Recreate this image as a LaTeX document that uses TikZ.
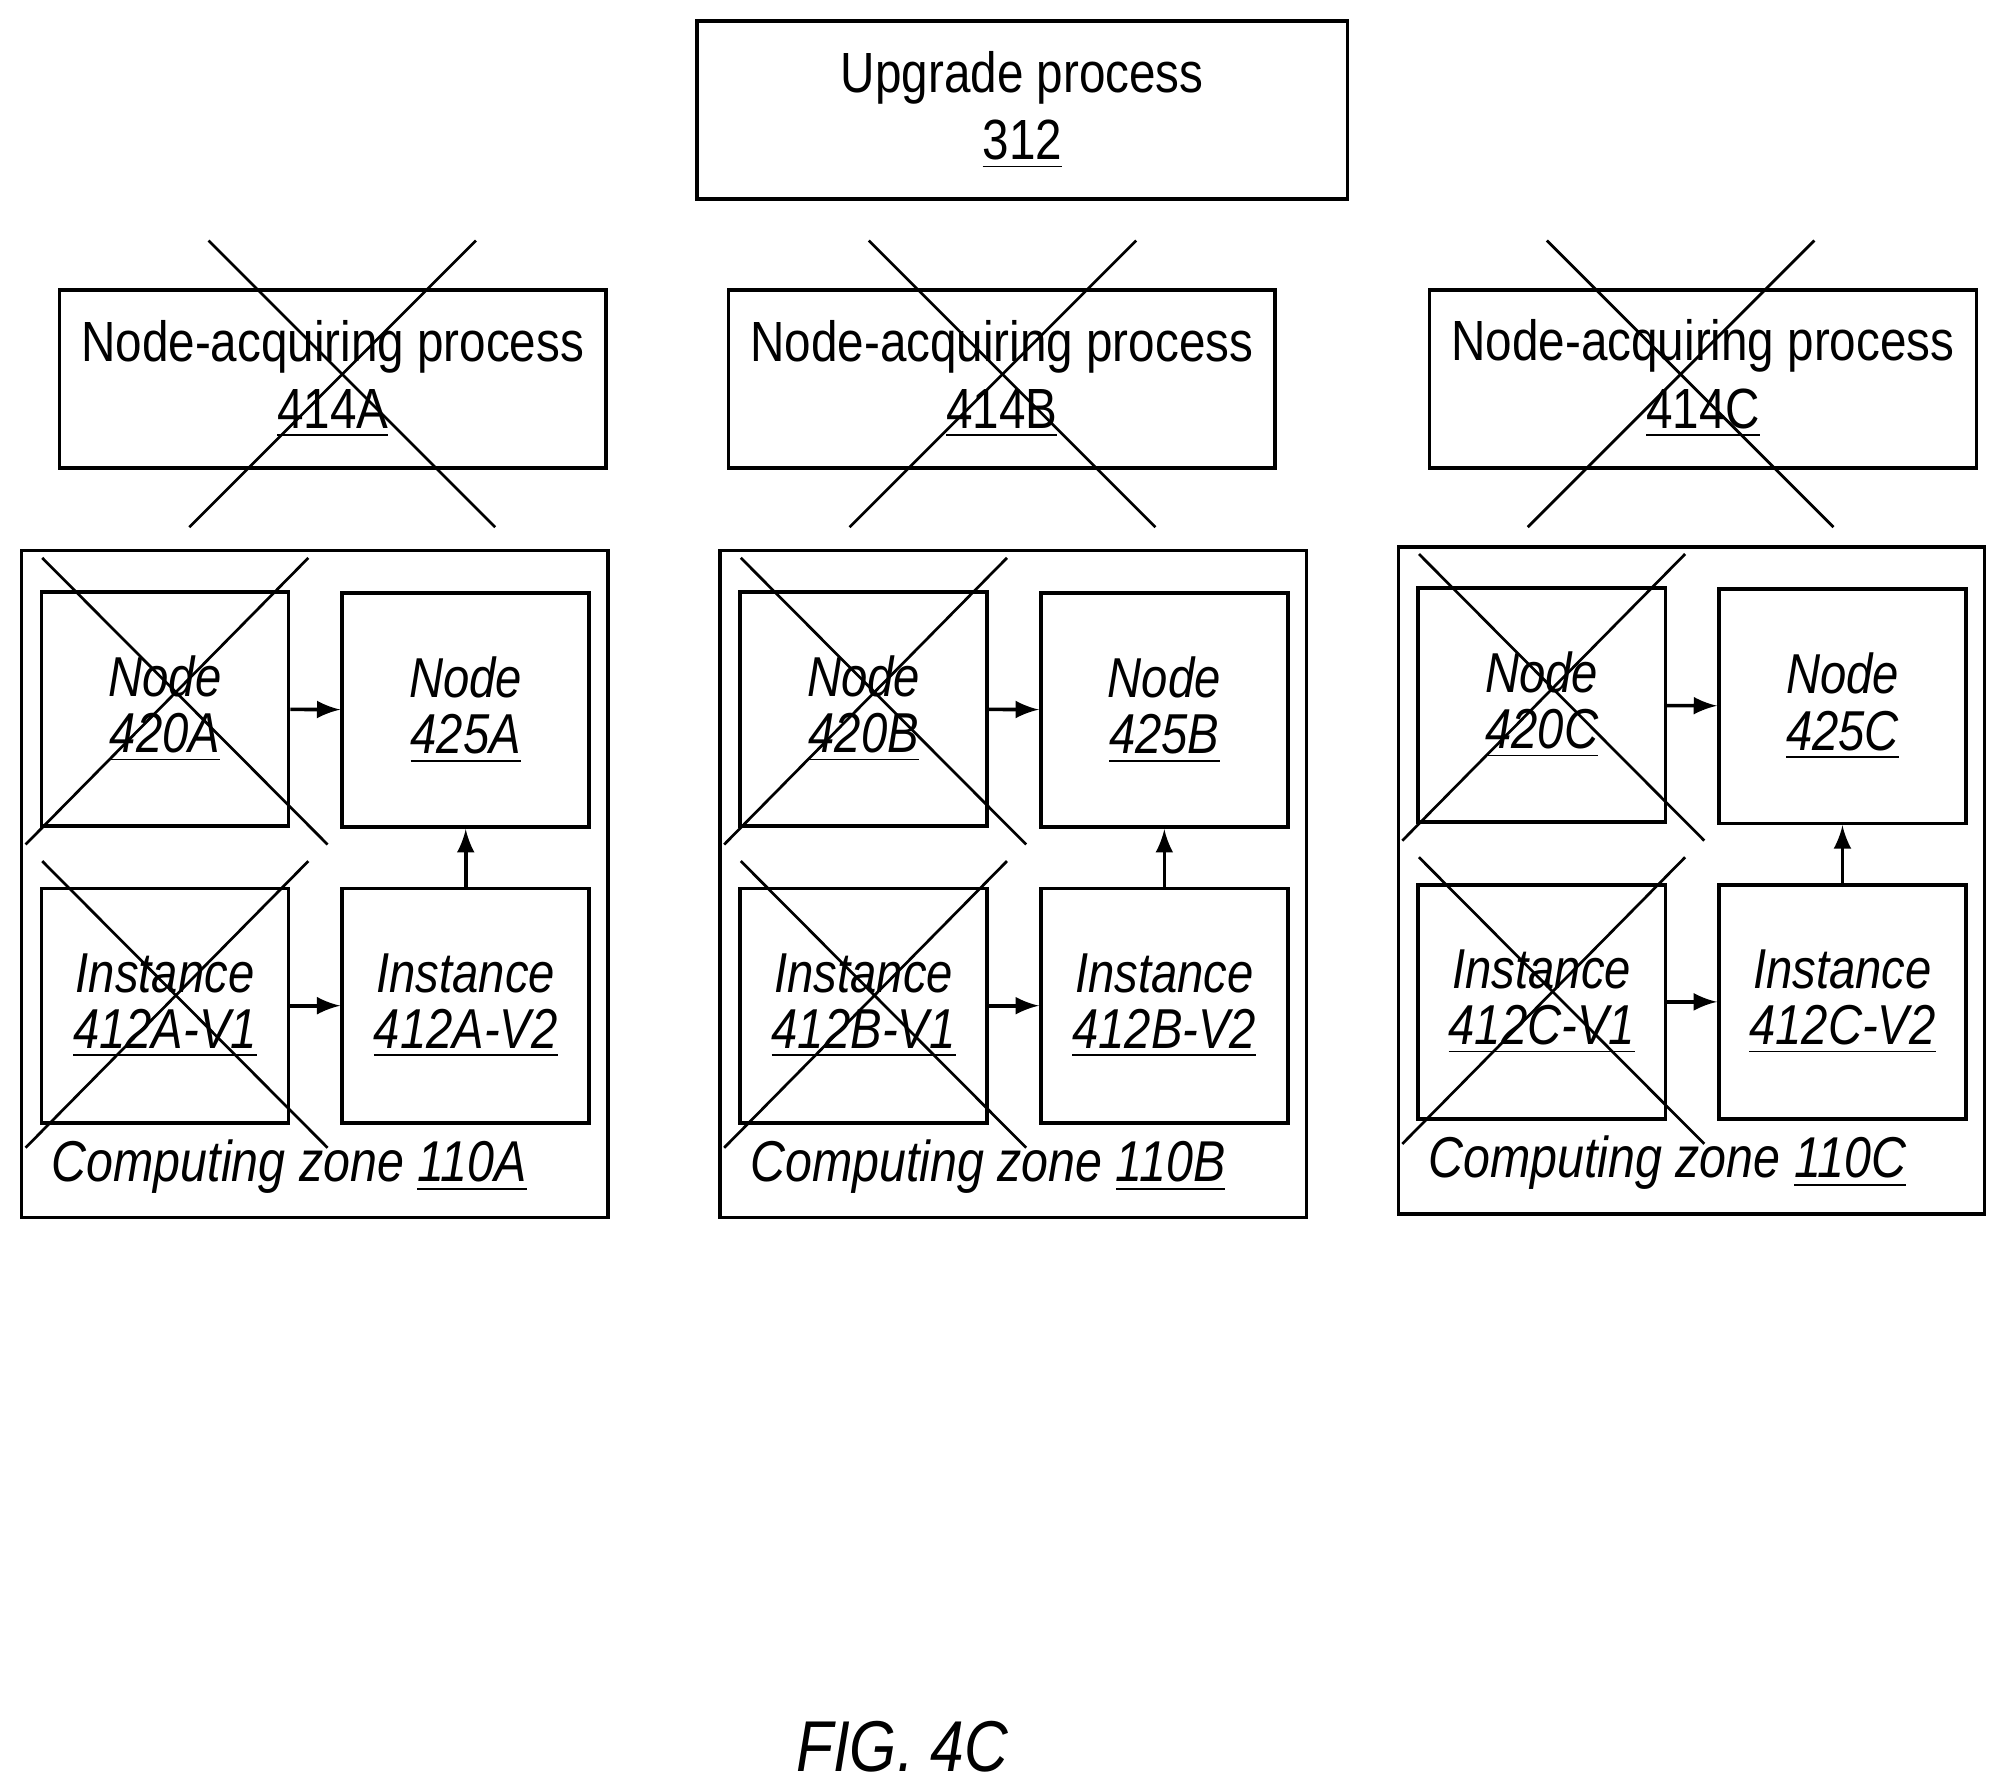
\documentclass[tikz,border=0pt]{standalone}
\usepackage{fontspec}
\setmainfont[FakeStretch=0.84]{Liberation Sans}
\usetikzlibrary{positioning}
\tikzset{
  box/.style={draw, thick, align=center, inner sep=0pt},
  proc/.style={box, minimum width=4.27cm, minimum height=1.39cm, font=\fontsize{12.6}{15}\selectfont},
  unit/.style={box, minimum width=1.93cm, minimum height=1.83cm, font=\fontsize{12.5}{12.5}\selectfont\itshape},
  cross/.style={semithick},
  arr/.style={thick, -latex}
}
\begin{document}
\begin{tikzpicture}[x=0.01cm, y=-0.01cm]
  \useasboundingbox (0,0) rectangle (1560,1396);
  % Upgrade process
  \node[proc, minimum width=5.08cm] (upg) at (799,86) {Upgrade process\\\underline{312}};
  % node-acquiring processes
  \foreach \z/\px/\cx in {A/0/0, B/523/516, C/1071/1046} {
    \node[proc] (acq\z) at (260+\px,296) {Node-acquiring process\\\underline{414\z}};
    \draw[cross] (163+\cx,188) -- (387+\cx,412);
    \draw[cross] (372+\cx,188) -- (148+\cx,412);
  }
  % three zones
  \foreach \z/\dx/\dy in {A/0/0, B/546/0, C/1076/-3} {
    \begin{scope}[shift={(\dx,\dy)}]
      \node[box, minimum width=4.58cm, minimum height=5.21cm] (zone\z) at (246,691) {};
      \node[unit] (old\z) at (129,554) {Node\\\underline{420\z}};
      \node[unit] (new\z) at (364,555) {Node\\\underline{425\z}};
      \node[unit] (iold\z) at (129,786) {Instance\\\underline{412\z-V1}};
      \node[unit] (inew\z) at (364,786) {Instance\\\underline{412\z-V2}};
      \draw[cross] (33,436) -- (256,660);
      \draw[cross] (241,436) -- (20,660);
      \draw[cross] (33,673) -- (256,897);
      \draw[cross] (241,673) -- (20,897);
      \node[anchor=west, font=\fontsize{12.8}{15}\selectfont\itshape] (lbl\z) at (28,912) {Computing zone \underline{110\z}};
      \draw[arr] (old\z) -- (new\z);
      \draw[arr] (iold\z) -- (inew\z);
      \draw[arr] (inew\z) -- (new\z);
    \end{scope}
  }
  \node[font=\fontsize{16}{19}\selectfont\itshape] (fig) at (705,1365) {FIG. 4C};
\end{tikzpicture}
\end{document}
